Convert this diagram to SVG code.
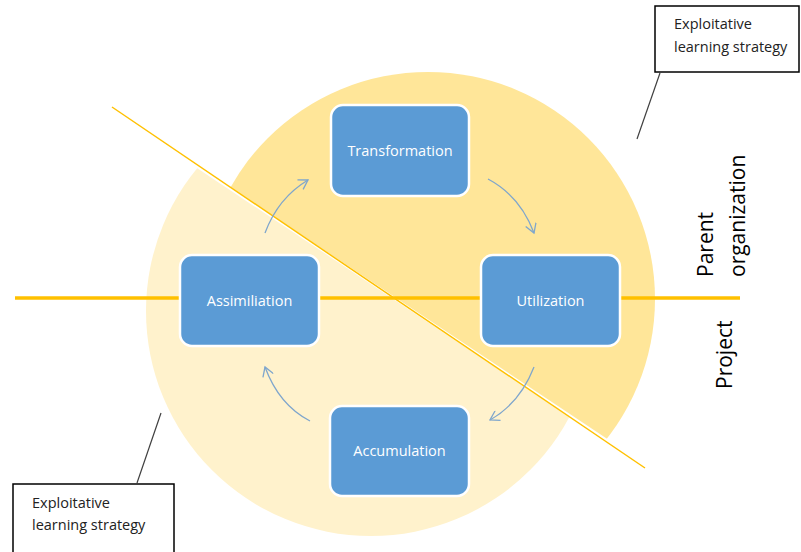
<svg xmlns="http://www.w3.org/2000/svg" width="801" height="552" viewBox="0 0 801 552">
<style>
.box{fill:#5B9BD5;stroke:#FFFFFF;stroke-width:2.5}
.lbl{font-family:"Open Sans","Liberation Sans",sans-serif;font-size:14.5px;fill:#FFFFFF;text-anchor:middle}
.call{fill:#FFFFFF;stroke:#000000;stroke-width:1.5}
.ctext{font-family:"Open Sans","Liberation Sans",sans-serif;font-size:14.5px;fill:#222222}
.side{font-family:"Open Sans","Liberation Sans",sans-serif;font-size:21px;fill:#000000}
.arr{fill:none;stroke:#7FA6CC;stroke-width:1.3;marker-end:url(#ah)}
.lead{stroke:#404040;stroke-width:1.2}
</style>
<defs>
<clipPath id="upper"><polygon points="-500,-298.6 1300,902.7 1300,-600 -500,-600"/></clipPath>
<clipPath id="lower"><polygon points="-500,-298.6 1300,902.7 1300,1200 -500,1200"/></clipPath>
<marker id="ah" markerWidth="12" markerHeight="12" refX="10" refY="6" orient="auto" markerUnits="userSpaceOnUse">
<path d="M1,0.5 L10,6 L1,11.5" fill="none" stroke="#7FA6CC" stroke-width="1.3"/>
</marker>
</defs>
<g id="background">
<circle cx="371" cy="311" r="225" fill="#FFF2CC" clip-path="url(#lower)"/>
<circle cx="428" cy="299" r="227" fill="#FFE699" clip-path="url(#upper)"/>
<line x1="-500" y1="-298.6" x2="1300" y2="902.7" stroke="#FFFFFF" stroke-width="2.5"/>
<line x1="112" y1="107" x2="645" y2="468" stroke="#FFC000" stroke-width="1.5"/>
<line x1="15" y1="298" x2="740" y2="298" stroke="#FFC000" stroke-width="3.5"/>
</g>
<g id="connectors">
<path class="arr" d="M265,233 Q278,198 308,180"/>
<path class="arr" d="M488,179 Q520,196 534,233"/>
<path class="arr" d="M534,367 Q520,403 490,420"/>
<path class="arr" d="M310,421 Q279,405 265,367"/>
<line class="lead" x1="660" y1="73" x2="637" y2="139"/>
<line class="lead" x1="161" y1="413" x2="137" y2="483"/>
</g>
<g id="transformation">
<rect class="box" x="331" y="105" width="138" height="91" rx="12"/>
<text class="lbl" x="400" y="155.5">Transformation</text>
</g>
<g id="assimilation">
<rect class="box" x="180" y="255" width="139" height="91" rx="12"/>
<text class="lbl" x="249.5" y="305.5">Assimiliation</text>
</g>
<g id="utilization">
<rect class="box" x="481" y="255" width="139" height="91" rx="12"/>
<text class="lbl" x="550.5" y="305.5">Utilization</text>
</g>
<g id="accumulation">
<rect class="box" x="330" y="406" width="139" height="90" rx="12"/>
<text class="lbl" x="399.5" y="455.5">Accumulation</text>
</g>
<g id="callout-top">
<rect class="call" x="655" y="6" width="144" height="66"/>
<text class="ctext" x="674" y="29">Exploitative</text>
<text class="ctext" x="674" y="52">learning strategy</text>
</g>
<g id="callout-bottom">
<rect class="call" x="13" y="484" width="161" height="80"/>
<text class="ctext" x="32" y="508">Exploitative</text>
<text class="ctext" x="32" y="530">learning strategy</text>
</g>
<g id="side-labels">
<text class="side" transform="translate(713,277) rotate(-90)">Parent</text>
<text class="side" transform="translate(745,277) rotate(-90)">organization</text>
<text class="side" transform="translate(732,389) rotate(-90)">Project</text>
</g>
</svg>
